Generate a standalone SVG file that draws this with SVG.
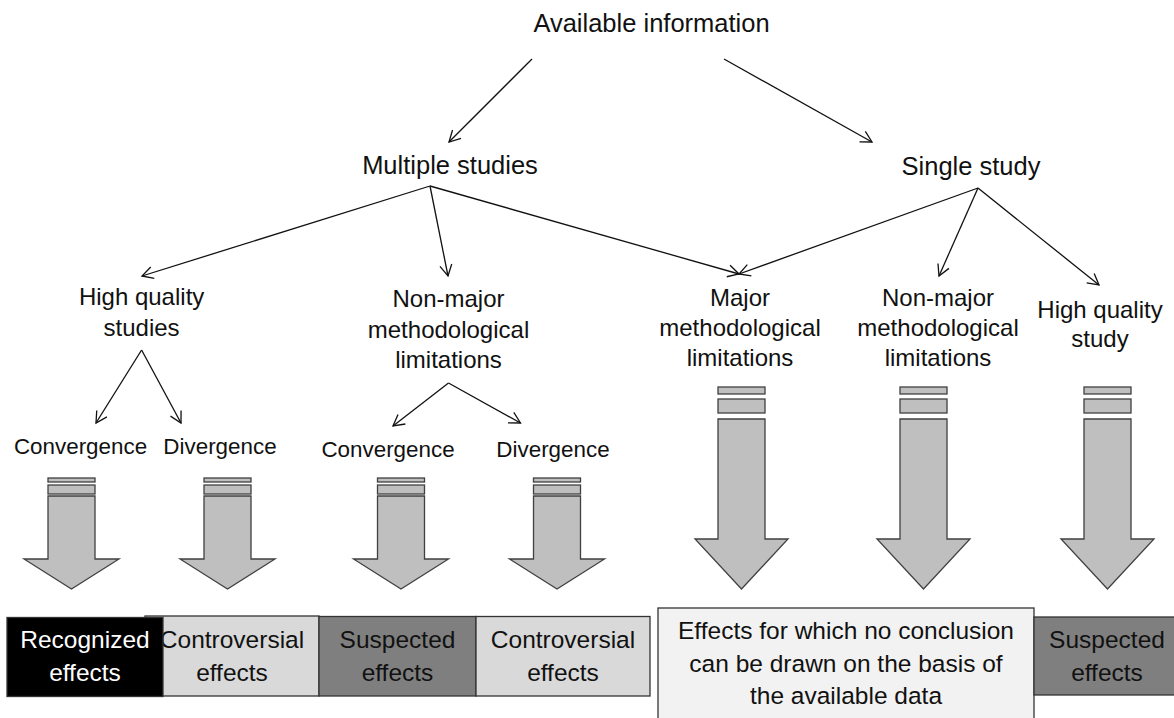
<svg xmlns="http://www.w3.org/2000/svg" width="1174" height="718" viewBox="0 0 1174 718">
<defs>
<style>
text{font-family:"Liberation Sans",Arial,sans-serif;fill:#111;text-anchor:middle}
.t1{font-size:25.5px}
.t2{font-size:24px}
.t3{font-size:22.4px}
.tb{font-size:24.5px}
.w{fill:#fff}
.conn line{stroke:#111;stroke-width:1.3;fill:none}
.bar{fill:#bfbfbf;stroke:#404040;stroke-width:1.3}
.box{stroke:#333;stroke-width:1.3}
</style>
<marker id="ah" markerUnits="userSpaceOnUse" markerWidth="14" markerHeight="14" viewBox="0 0 14 14" refX="12" refY="7" orient="auto">
<path d="M1,1 L12,7 L1,13" fill="none" stroke="#111" stroke-width="1.3"/>
</marker>
</defs>
<rect width="1174" height="718" fill="#fff"/>

<g id="connectors" class="conn">
<line x1="532" y1="59" x2="449" y2="142" marker-end="url(#ah)"/>
<line x1="724" y1="59" x2="872" y2="142" marker-end="url(#ah)"/>
<line x1="430" y1="186" x2="142" y2="276" marker-end="url(#ah)"/>
<line x1="430" y1="186" x2="448" y2="276" marker-end="url(#ah)"/>
<line x1="430" y1="186" x2="739" y2="274" marker-end="url(#ah)"/>
<line x1="978" y1="188" x2="739" y2="274" marker-end="url(#ah)"/>
<line x1="978" y1="188" x2="939" y2="276" marker-end="url(#ah)"/>
<line x1="978" y1="188" x2="1099" y2="285" marker-end="url(#ah)"/>
<line x1="141.6" y1="350" x2="96" y2="423" marker-end="url(#ah)"/>
<line x1="141.6" y1="350" x2="181" y2="423" marker-end="url(#ah)"/>
<line x1="448.5" y1="383" x2="393" y2="426" marker-end="url(#ah)"/>
<line x1="448.5" y1="383" x2="520.5" y2="423" marker-end="url(#ah)"/>
</g>

<g id="n-available"><text class="t1" x="651.5" y="32">Available information</text></g>
<g id="n-multiple"><text class="t1" x="450" y="174">Multiple studies</text></g>
<g id="n-single"><text class="t1" x="971" y="175">Single study</text></g>

<g id="n-hq-studies"><text class="t2" x="141.6" y="305">High quality</text><text class="t2" x="141.6" y="336">studies</text></g>
<g id="n-nonmajor-multi"><text class="t2" x="448.5" y="307">Non-major</text><text class="t2" x="448.5" y="338">methodological</text><text class="t2" x="448.5" y="368">limitations</text></g>
<g id="n-major"><text class="t2" x="740" y="306">Major</text><text class="t2" x="740" y="336">methodological</text><text class="t2" x="740" y="366">limitations</text></g>
<g id="n-nonmajor-single"><text class="t2" x="938" y="306">Non-major</text><text class="t2" x="938" y="336">methodological</text><text class="t2" x="938" y="366">limitations</text></g>
<g id="n-hq-study"><text class="t2" x="1100" y="318">High quality</text><text class="t2" x="1100" y="347">study</text></g>

<g id="n-conv1"><text class="t3" x="80.5" y="454">Convergence</text></g>
<g id="n-div1"><text class="t3" x="220" y="454">Divergence</text></g>
<g id="n-conv2"><text class="t3" x="388" y="457">Convergence</text></g>
<g id="n-div2"><text class="t3" x="553" y="457">Divergence</text></g>

<g id="small-arrows">
<g id="sa1" transform="translate(71.5,0)">
<rect class="bar" x="-23.5" y="478" width="47" height="4"/>
<rect class="bar" x="-23.5" y="485" width="47" height="9"/>
<path class="bar" d="M-23.5,496 H23.5 V559 H47.5 L0,589 L-47.5,559 H-23.5 Z"/>
</g>
<g id="sa2" transform="translate(227.5,0)">
<rect class="bar" x="-23.5" y="478" width="47" height="4"/>
<rect class="bar" x="-23.5" y="485" width="47" height="9"/>
<path class="bar" d="M-23.5,496 H23.5 V559 H47.5 L0,589 L-47.5,559 H-23.5 Z"/>
</g>
<g id="sa3" transform="translate(401,0)">
<rect class="bar" x="-23.5" y="478" width="47" height="4"/>
<rect class="bar" x="-23.5" y="485" width="47" height="9"/>
<path class="bar" d="M-23.5,496 H23.5 V559 H47.5 L0,589 L-47.5,559 H-23.5 Z"/>
</g>
<g id="sa4" transform="translate(557,0)">
<rect class="bar" x="-23.5" y="478" width="47" height="4"/>
<rect class="bar" x="-23.5" y="485" width="47" height="9"/>
<path class="bar" d="M-23.5,496 H23.5 V559 H47.5 L0,589 L-47.5,559 H-23.5 Z"/>
</g>
</g>

<g id="big-arrows">
<g id="ba1" transform="translate(741.5,0)">
<rect class="bar" x="-23.5" y="387" width="47" height="7"/>
<rect class="bar" x="-23.5" y="399" width="47" height="14"/>
<path class="bar" d="M-23.5,419 H23.5 V539 H46.5 L0,589 L-46.5,539 H-23.5 Z"/>
</g>
<g id="ba2" transform="translate(923.5,0)">
<rect class="bar" x="-23.5" y="387" width="47" height="7"/>
<rect class="bar" x="-23.5" y="399" width="47" height="14"/>
<path class="bar" d="M-23.5,419 H23.5 V539 H46.5 L0,589 L-46.5,539 H-23.5 Z"/>
</g>
<g id="ba3" transform="translate(1107.5,0)">
<rect class="bar" x="-23.5" y="387" width="47" height="7"/>
<rect class="bar" x="-23.5" y="399" width="47" height="14"/>
<path class="bar" d="M-23.5,419 H23.5 V539 H46.5 L0,589 L-46.5,539 H-23.5 Z"/>
</g>
</g>

<g id="b-controversial1"><rect class="box" x="145" y="616" width="174" height="80" fill="#d9d9d9"/><text class="tb" x="232" y="648">Controversial</text><text class="tb" x="232" y="681">effects</text></g>
<g id="b-recognized"><rect class="box" x="7" y="617.5" width="156" height="79" fill="#000"/><text class="tb w" x="85" y="648">Recognized</text><text class="tb w" x="85" y="681">effects</text></g>
<g id="b-suspected1"><rect class="box" x="319" y="616.5" width="157" height="79.5" fill="#7f7f7f"/><text class="tb" x="397.5" y="648">Suspected</text><text class="tb" x="397.5" y="681">effects</text></g>
<g id="b-controversial2"><rect class="box" x="476" y="616.5" width="174" height="79.5" fill="#d9d9d9"/><text class="tb" x="563" y="648">Controversial</text><text class="tb" x="563" y="681">effects</text></g>
<g id="b-noconclusion"><rect class="box" x="658" y="608" width="376" height="120" fill="#f2f2f2"/><text class="tb" x="846" y="639">Effects for which no conclusion</text><text class="tb" x="846" y="672">can be drawn on the basis of</text><text class="tb" x="846" y="704">the available data</text></g>
<g id="b-suspected2"><rect class="box" x="1034" y="617" width="150" height="78" fill="#7f7f7f"/><text class="tb" x="1107" y="648">Suspected</text><text class="tb" x="1107" y="681">effects</text></g>
</svg>
